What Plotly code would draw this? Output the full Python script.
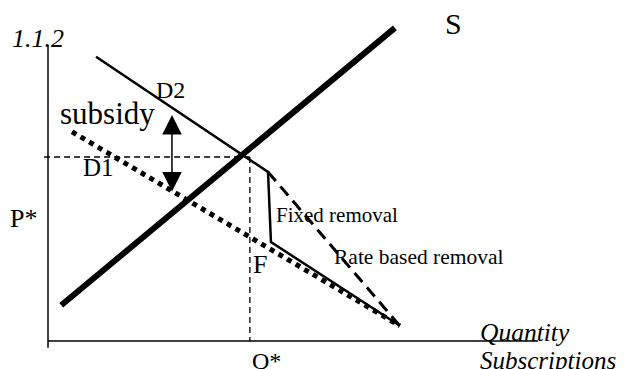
import plotly.graph_objects as go

# ---- data (quantity / price units) ----
axis_q = [0, 10]
axis_p = [-0.14, 6.04]

supply_q = [0.27, 7.08]
supply_p = [0.73, 6.39]

d2_q = [0.98, 4.49, 4.55, 7.18]
d2_p = [5.80, 3.45, 2.02, 0.31]

d1_q = [0.49, 7.18]
d1_p = [4.27, 0.31]

rate_q = [4.49, 7.18]
rate_p = [3.45, 0.31]

guide_h_q = [-0.08, 4.12]
guide_h_p = [3.755, 3.755]
guide_v_q = [4.12, 4.12]
guide_v_p = [3.755, 0]

subsidy_q = 2.53
subsidy_p = [3.02, 4.61]

labels = [
    # text, q, p, size, xanchor
    ("<i>1.1.2</i>", -0.20, 6.18, 26, "center"),
    ("S", 8.27, 6.47, 30, "center"),
    ("D2", 2.51, 5.12, 24, "center"),
    ("subsidy", 1.22, 4.65, 31, "center"),
    ("D1", 1.04, 3.55, 25, "center"),
    ("P*", -0.49, 2.49, 26, "center"),
    ("F", 4.33, 1.57, 26, "center"),
    ("Fixed removal", 4.61, 2.57, 21, "left"),
    ("Rate based removal", 5.80, 1.71, 21.5, "left"),
    ("Q*", 4.45, -0.40, 24, "center"),
    ("<i>Quantity</i>", 8.78, 0.18, 25.5, "left"),
    ("<i>Subscriptions</i>", 8.78, -0.40, 25, "left"),
]

FONT = "Liberation Serif"
fig = go.Figure()

def line(q, p, width, dash="solid"):
    fig.add_trace(go.Scatter(x=q, y=p, mode="lines",
                             line=dict(color="black", width=width, dash=dash),
                             hoverinfo="skip"))

# axes
line([0, 0], axis_p, 1.5)
line(axis_q, [0, 0], 1.5)
# guides
line(guide_h_q, guide_h_p, 1.3, "6px,4px")
line(guide_v_q, guide_v_p, 1.3, "6px,4px")
# demand curves
line(d1_q, d1_p, 5, "dot")
line(rate_q, rate_p, 3, "12px,7px")
line(d2_q, d2_p, 2.5)
# supply
line(supply_q, supply_p, 6)

annotations = []
for text, q, p, size, xa in labels:
    annotations.append(dict(x=q, y=p, xref="x", yref="y", text=text,
                            showarrow=False, xanchor=xa, yanchor="middle",
                            font=dict(family=FONT, size=size, color="black")))

annotations.append(dict(x=subsidy_q, y=subsidy_p[1], ax=subsidy_q, ay=subsidy_p[0],
                        xref="x", yref="y", axref="x", ayref="y", text="",
                        showarrow=True, arrowside="end+start",
                        arrowhead=2, startarrowhead=2,
                        arrowsize=2.6, startarrowsize=2.6,
                        arrowwidth=1.5, arrowcolor="black"))

# page has an 8px body margin; figure is sized to fit the remaining window
fig.update_layout(
    width=616, height=361,
    margin=dict(l=0, r=0, t=0, b=0),
    paper_bgcolor="white", plot_bgcolor="white",
    showlegend=False,
    font=dict(family=FONT),
    xaxis=dict(range=[-40 / 49, 576 / 49], visible=False, fixedrange=True),
    yaxis=dict(range=[-28 / 49, 333 / 49], visible=False, fixedrange=True),
    annotations=annotations,
)

fig.write_html("out.html")
